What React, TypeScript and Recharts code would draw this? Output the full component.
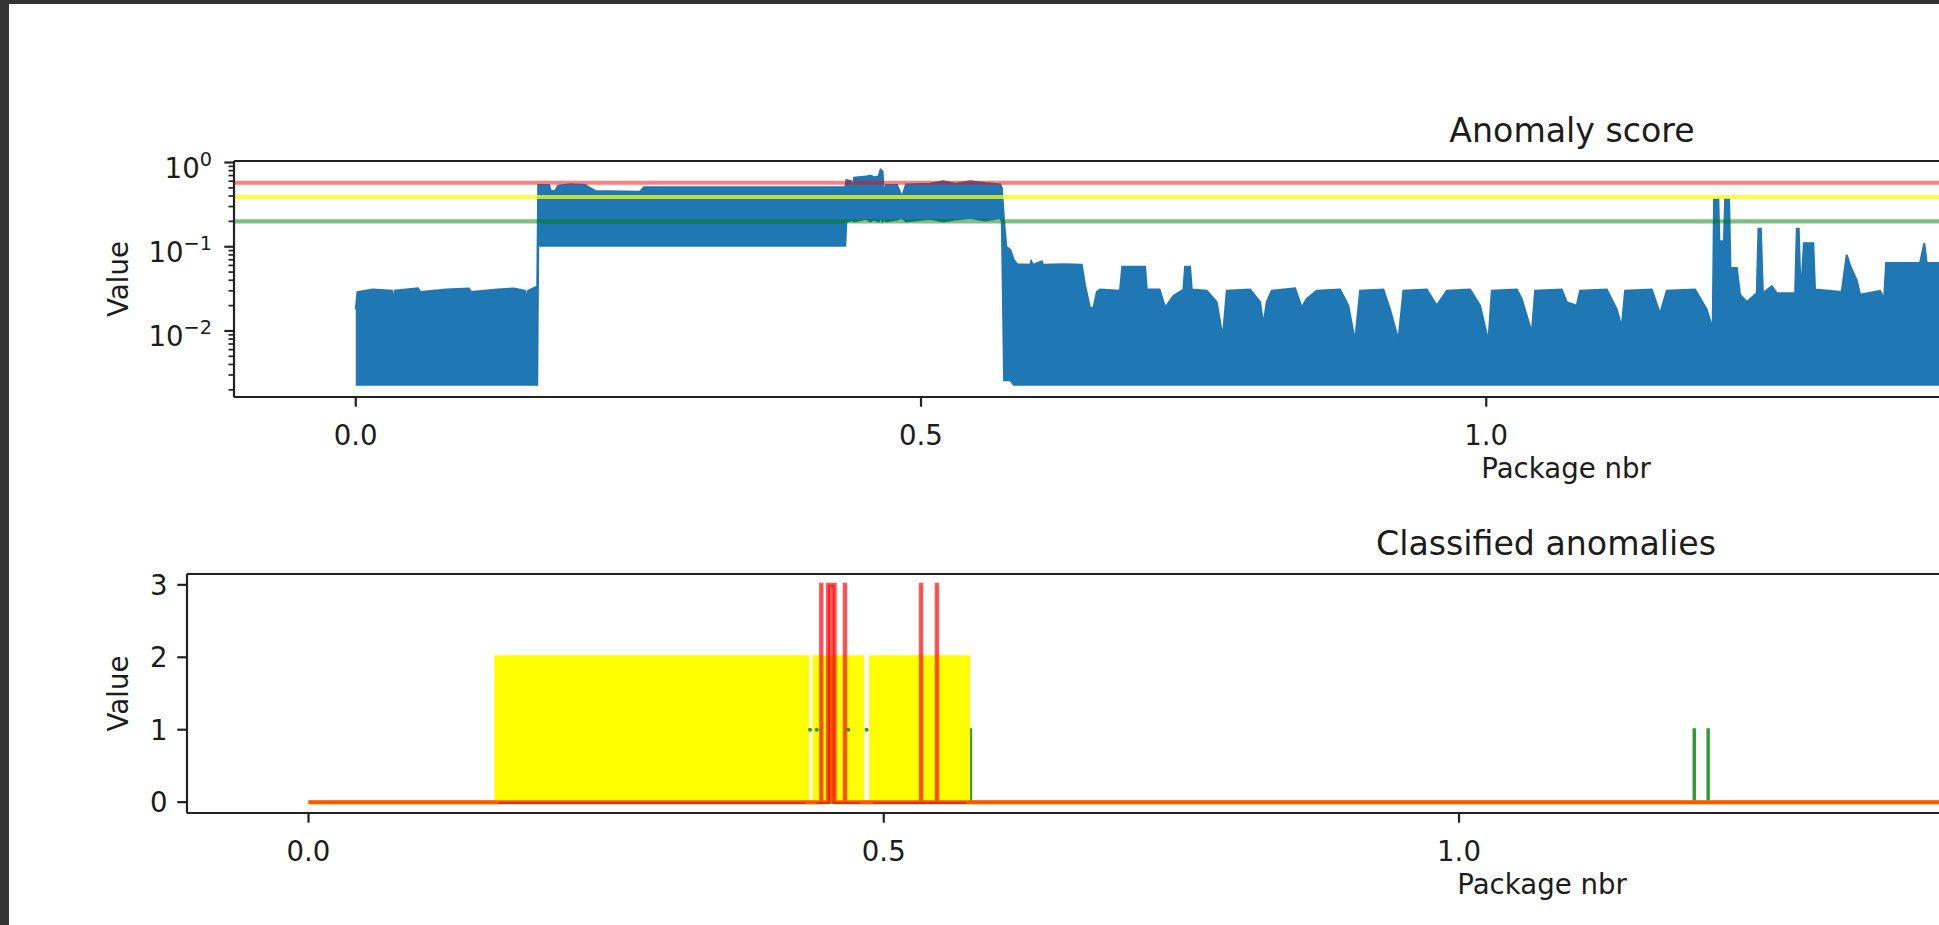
import React from 'react';
import { ComposedChart, Area, Scatter, XAxis, YAxis, ReferenceLine, Label } from 'recharts';

// ---------------- data: anomaly score envelope (package nbr, low, high) ----------------
const scoreX = [
  0.0, 0.0015, 0.015, 0.032, 0.033, 0.0345, 0.055, 0.057, 0.08, 0.1, 0.102, 0.125, 0.14, 0.15, 0.151, 0.1525, 0.159, 0.1605,
  0.1614, 0.171, 0.1726, 0.1762, 0.179, 0.1896, 0.2029, 0.2117, 0.2515, 0.255, 0.3045, 0.3576, 0.433,
  0.434, 0.4382, 0.439, 0.4408, 0.4515, 0.455, 0.4585, 0.4625, 0.4642, 0.466, 0.4673, 0.469, 0.4788, 0.4832, 0.4867,
  0.508, 0.5196, 0.5303, 0.5436, 0.5568, 0.57,
  0.5715, 0.5735, 0.5755, 0.579, 0.582,
  0.585, 0.5965, 0.5975, 0.599, 0.6068, 0.608, 0.626, 0.6422, 0.6451, 0.6495, 0.6525, 0.6555, 0.6584, 0.676, 0.678,
  0.6982, 0.6997, 0.711, 0.716, 0.7232, 0.7321, 0.7336, 0.738, 0.7395, 0.7528, 0.7616, 0.7669, 0.7705, 0.7911, 0.8,
  0.8028, 0.8058, 0.8103, 0.8309, 0.8368, 0.8412, 0.85, 0.8707, 0.878, 0.8839, 0.8884, 0.909, 0.9149, 0.9223, 0.9267,
  0.9474, 0.9562, 0.9651, 0.9857, 0.9945, 1.0019, 1.0049, 1.027, 1.0314, 1.0403, 1.0432, 1.0668, 1.0712, 1.08, 1.083,
  1.1066, 1.1154, 1.1198, 1.1228, 1.1464, 1.1537, 1.1597, 1.1847, 1.195, 1.2003, 1.2015, 1.2053, 1.2062, 1.2085, 1.2095,
  1.2113, 1.2148, 1.216, 1.2216, 1.2245, 1.2305, 1.2393, 1.2408, 1.2429, 1.2447, 1.2526, 1.257, 1.2732, 1.2747, 1.2764,
  1.2782, 1.281, 1.2893, 1.2908, 1.3144, 1.3188, 1.3218, 1.3277, 1.3307, 1.3483, 1.3519, 1.3537, 1.3837, 1.3875, 1.3896, 1.43,
];
const scoreLow = [
  0.0023, 0.0023, 0.0023, 0.0023, 0.0023, 0.0023, 0.0023, 0.0023, 0.0023, 0.0023, 0.0023, 0.0023, 0.0023, 0.0023, 0.0023, 0.0023, 0.0023, 0.0023,
  0.103, 0.103, 0.103, 0.103, 0.103, 0.103, 0.103, 0.103, 0.103, 0.103, 0.103, 0.103, 0.103,
  0.2, 0.205, 0.21, 0.2, 0.215, 0.2, 0.21, 0.2, 0.22, 0.2, 0.215, 0.2, 0.21, 0.22, 0.2,
  0.215, 0.2, 0.21, 0.22, 0.205, 0.22,
  0.2, 0.0026, 0.0026, 0.0026, 0.0023,
  0.0023, 0.0023, 0.0023, 0.0023, 0.0023, 0.0023, 0.0023, 0.0023, 0.0023, 0.0023, 0.0023, 0.0023, 0.0023, 0.0023, 0.0023,
  0.0023, 0.0023, 0.0023, 0.0023, 0.0023, 0.0023, 0.0023, 0.0023, 0.0023, 0.0023, 0.0023, 0.0023, 0.0023, 0.0023, 0.0023,
  0.0023, 0.0023, 0.0023, 0.0023, 0.0023, 0.0023, 0.0023, 0.0023, 0.0023, 0.0023, 0.0023, 0.0023, 0.0023, 0.0023, 0.0023,
  0.0023, 0.0023, 0.0023, 0.0023, 0.0023, 0.0023, 0.0023, 0.0023, 0.0023, 0.0023, 0.0023, 0.0023, 0.0023, 0.0023, 0.0023,
  0.0023, 0.0023, 0.0023, 0.0023, 0.0023, 0.0023, 0.0023, 0.0023, 0.0023, 0.0023, 0.0023, 0.0023, 0.0023, 0.0023, 0.0023,
  0.0023, 0.0023, 0.0023, 0.0023, 0.0023, 0.0023, 0.0023, 0.0023, 0.0023, 0.0023, 0.0023, 0.0023, 0.0023, 0.0023, 0.0023,
  0.0023, 0.0023, 0.0023, 0.0023, 0.0023, 0.0023, 0.0023, 0.0023, 0.0023, 0.0023, 0.0023, 0.0023, 0.0023, 0.0023, 0.0023, 0.0023,
];
const scoreHigh = [
  0.018, 0.029, 0.031, 0.03, 0.022, 0.03, 0.032, 0.029, 0.031, 0.032, 0.029, 0.031, 0.032, 0.03, 0.023, 0.03, 0.033, 0.03,
  0.54, 0.54, 0.46, 0.46, 0.53, 0.55, 0.54, 0.46, 0.45, 0.51, 0.51, 0.51, 0.51,
  0.62, 0.6, 0.38, 0.66, 0.68, 0.7, 0.67, 0.68, 0.82, 0.78, 0.39, 0.54, 0.54, 0.39, 0.55,
  0.56, 0.6, 0.56, 0.6, 0.57, 0.55,
  0.5, 0.2, 0.1, 0.092, 0.07,
  0.062, 0.061, 0.067, 0.061, 0.067, 0.061, 0.062, 0.061, 0.035, 0.0187, 0.0187, 0.029, 0.031, 0.03, 0.058,
  0.058, 0.031, 0.031, 0.019, 0.026, 0.031, 0.058, 0.058, 0.031, 0.03, 0.022, 0.0083, 0.03, 0.031, 0.022,
  0.0117, 0.022, 0.03, 0.032, 0.019, 0.024, 0.03, 0.031, 0.02, 0.0075, 0.03, 0.031, 0.018, 0.0078, 0.03,
  0.031, 0.02, 0.03, 0.031, 0.02, 0.0075, 0.03, 0.031, 0.024, 0.0095, 0.03, 0.031, 0.022, 0.02, 0.03,
  0.031, 0.018, 0.011, 0.03, 0.031, 0.016, 0.03, 0.031, 0.018, 0.0105, 0.366, 0.366, 0.116, 0.116, 0.05,
  0.366, 0.366, 0.056, 0.056, 0.027, 0.022, 0.028, 0.164, 0.164, 0.028, 0.034, 0.028, 0.028, 0.164, 0.164,
  0.025, 0.11, 0.11, 0.031, 0.029, 0.08, 0.06, 0.04, 0.027, 0.03, 0.024, 0.064, 0.064, 0.11, 0.064, 0.064,
];

const thresholdRed = 0.575;
const thresholdYellow = 0.39;
const thresholdGreen = 0.2;

// ---------------- data: classified anomalies (step series) ----------------
const yellowX = [0, 0.1634, 0.1634, 0.4336, 0.4336, 0.4399, 0.4399, 0.4811, 0.4811, 0.4889, 0.4889, 0.5733, 0.5733, 1.45];
const yellowY = [0, 0, 2, 2, 0, 0, 2, 2, 0, 0, 2, 2, 0, 0];

const redX = [0, 0.4455, 0.4455, 0.4459, 0.4459, 0.4515, 0.4515, 0.4574, 0.4574, 0.4661, 0.4661, 0.4665, 0.4665,
  0.5322, 0.5322, 0.5326, 0.5326, 0.546, 0.546, 0.5464, 0.5464, 1.45];
const redY = [0, 0, 3, 3, 0, 0, 3, 3, 0, 0, 3, 3, 0, 0, 3, 3, 0, 0, 3, 3, 0, 0];

const greenX = [0, 0.5753, 0.5753, 0.5755, 0.5755, 1.2043, 1.2043, 1.2046, 1.2046, 1.2164, 1.2164, 1.2167, 1.2167, 1.45];
const greenY = [0, 0, 1, 1, 0, 0, 1, 1, 0, 0, 1, 1, 0, 0];

const greenDotX = [0.4359, 0.4417, 0.4692, 0.4851];
const greenDotY = [1, 1, 1, 1];

// ---------------- tick values ----------------
const xTickValues = [0, 0.5, 1.0];
const logMajorTicks = [0.01, 0.1, 1];
const logMinorTicks = [
  0.002, 0.003, 0.004, 0.005, 0.006, 0.007, 0.008, 0.009,
  0.02, 0.03, 0.04, 0.05, 0.06, 0.07, 0.08, 0.09,
  0.2, 0.3, 0.4, 0.5, 0.6, 0.7, 0.8, 0.9,
];
const classTicks = [0, 1, 2, 3];

// ---------------- rows built from the arrays ----------------
const scoreRows = scoreX.map((x, i) => ({ x, band: [scoreLow[i], scoreHigh[i]] }));
const yellowRows = yellowX.map((x, i) => ({ x, y: yellowY[i] }));
const redRows = redX.map((x, i) => ({ x, y: redY[i] }));
const greenRows = greenX.map((x, i) => ({ x, y: greenY[i] }));
const greenDotRows = greenDotX.map((x, i) => ({ x, y: greenDotY[i] }));

// ---------------- layout / style ----------------
const FONT = "'DejaVu Sans', sans-serif";
const TXT = '#1c1c1c';
const SPINE = '#222';
const FS = 27.6;
const TITLE_FS = 33.2;

const TOP = { left: 234, top: 161, right: 2910, bottom: 397, width: 2920, height: 500, xlabelX: 1566 };
const BOT = { left: 187, top: 74, right: 2905, bottom: 313, width: 2915, height: 425, offset: 500, xlabelX: 1542 };

const makeXTick = (spineY: number) => (props: any) => {
  const { x, payload } = props;
  const cx = payload && typeof payload.coordinate === 'number' ? payload.coordinate : x;
  return (
    <g>
      <line x1={cx} x2={cx} y1={spineY} y2={spineY + 9.7} stroke={SPINE} strokeWidth={2.2} />
      <text x={cx} y={spineY + 48} textAnchor="middle" fontFamily={FONT} fontSize={FS} fill={TXT}>
        {Number(payload.value).toFixed(1)}
      </text>
    </g>
  );
};

const makeLogTick = (spineX: number) => (props: any) => {
  const { y, payload } = props;
  const cy = payload && typeof payload.coordinate === 'number' ? payload.coordinate : y;
  const v = Number(payload.value);
  const major = logMajorTicks.some((m) => Math.abs(m - v) < 1e-9);
  if (!major) {
    return <line x1={spineX - 5.5} x2={spineX} y1={cy} y2={cy} stroke={SPINE} strokeWidth={1.7} />;
  }
  const exp = Math.round(Math.log10(v));
  const expTxt = exp < 0 ? `\u2212${-exp}` : `${exp}`;
  return (
    <g>
      <line x1={spineX - 9.7} x2={spineX} y1={cy} y2={cy} stroke={SPINE} strokeWidth={2.2} />
      <text x={spineX - 22} y={cy + 15} textAnchor="end" fontFamily={FONT} fontSize={FS} fill={TXT}>
        10<tspan dy={-11.7} fontSize={19.3}>{expTxt}</tspan>
      </text>
    </g>
  );
};

const makeLinTick = (spineX: number) => (props: any) => {
  const { y, payload } = props;
  const cy = payload && typeof payload.coordinate === 'number' ? payload.coordinate : y;
  return (
    <g>
      <line x1={spineX - 9.7} x2={spineX} y1={cy} y2={cy} stroke={SPINE} strokeWidth={2.2} />
      <text x={spineX - 19.4} y={cy + 10} textAnchor="end" fontFamily={FONT} fontSize={FS} fill={TXT}>
        {String(payload.value)}
      </text>
    </g>
  );
};

const TextAt = ({ x, y, children, size = FS, rotate = false }: any) => (
  <text
    x={x}
    y={y}
    textAnchor="middle"
    fontFamily={FONT}
    fontSize={size}
    fill={TXT}
    dominantBaseline={rotate ? 'central' : undefined}
    transform={rotate ? `rotate(-90 ${x} ${y})` : undefined}
  >
    {children}
  </text>
);

function ScoreChart() {
  const cx = (TOP.left + TOP.right) / 2;
  const cy = (TOP.top + TOP.bottom) / 2;
  return (
    <ComposedChart
      width={TOP.width}
      height={TOP.height}
      data={scoreRows}
      margin={{ top: TOP.top, right: TOP.width - TOP.right, bottom: 0, left: 0 }}
    >
      <XAxis
        xAxisId="b"
        type="number"
        dataKey="x"
        domain={[-0.1077, 2.2594]}
        allowDataOverflow
        ticks={xTickValues}
        interval={0}
        height={TOP.height - TOP.bottom}
        axisLine={{ stroke: SPINE, strokeWidth: 2.2 }}
        tickLine={false}
        tickSize={0}
        tick={makeXTick(TOP.bottom)}
      >
        <Label content={() => <TextAt x={TOP.xlabelX} y={478}>Package nbr</TextAt>} />
        <Label content={() => <TextAt x={cx} y={142} size={TITLE_FS}>Anomaly score</TextAt>} />
      </XAxis>
      <YAxis
        yAxisId="l"
        type="number"
        scale="log"
        domain={[0.001644, 1.042]}
        allowDataOverflow
        ticks={[...logMajorTicks, ...logMinorTicks]}
        interval={0}
        width={TOP.left}
        axisLine={{ stroke: SPINE, strokeWidth: 2.2 }}
        tickLine={false}
        tickSize={0}
        tick={makeLogTick(TOP.left)}
      >
        <Label content={() => <TextAt x={118} y={cy} rotate>Value</TextAt>} />
      </YAxis>
      <Area
        xAxisId="b"
        yAxisId="l"
        dataKey="band"
        type="linear"
        fill="#1f77b4"
        fillOpacity={1}
        stroke="#1f77b4"
        strokeWidth={2}
        dot={false}
        activeDot={false}
        isAnimationActive={false}
      />
      <ReferenceLine xAxisId="b" yAxisId="l" y={thresholdRed} stroke="#ff0000" strokeOpacity={0.5} strokeWidth={4.1} />
      <ReferenceLine xAxisId="b" yAxisId="l" y={thresholdYellow} stroke="#ffff00" strokeOpacity={0.75} strokeWidth={4.1} />
      <ReferenceLine xAxisId="b" yAxisId="l" y={thresholdGreen} stroke="#008000" strokeOpacity={0.5} strokeWidth={4.1} />
      <ReferenceLine xAxisId="b" yAxisId="l" y={1.042} stroke={SPINE} strokeWidth={2.2} ifOverflow="visible" />
    </ComposedChart>
  );
}

function ClassChart() {
  const cx = (BOT.left + BOT.right) / 2;
  const cy = (BOT.top + BOT.bottom) / 2;
  return (
    <ComposedChart
      width={BOT.width}
      height={BOT.height}
      margin={{ top: BOT.top, right: BOT.width - BOT.right, bottom: 0, left: 0 }}
    >
      <XAxis
        xAxisId="b"
        type="number"
        dataKey="x"
        domain={[-0.1056, 2.2568]}
        allowDataOverflow
        ticks={xTickValues}
        interval={0}
        height={BOT.height - BOT.bottom}
        axisLine={{ stroke: SPINE, strokeWidth: 2.2 }}
        tickLine={false}
        tickSize={0}
        tick={makeXTick(BOT.bottom)}
      >
        <Label content={() => <TextAt x={BOT.xlabelX} y={394}>Package nbr</TextAt>} />
        <Label content={() => <TextAt x={cx} y={55} size={TITLE_FS}>Classified anomalies</TextAt>} />
      </XAxis>
      <YAxis
        yAxisId="l"
        type="number"
        domain={[-0.15, 3.15]}
        allowDataOverflow
        ticks={classTicks}
        interval={0}
        width={BOT.left}
        axisLine={{ stroke: SPINE, strokeWidth: 2.2 }}
        tickLine={false}
        tickSize={0}
        tick={makeLinTick(BOT.left)}
      >
        <Label content={() => <TextAt x={118} y={cy} rotate>Value</TextAt>} />
      </YAxis>
      <Area
        xAxisId="b"
        yAxisId="l"
        data={greenRows}
        dataKey="y"
        type="linear"
        baseValue={0}
        fill="none"
        fillOpacity={0}
        stroke="#2a9a2a"
        strokeWidth={3}
        dot={false}
        activeDot={false}
        isAnimationActive={false}
      />
      <Area
        xAxisId="b"
        yAxisId="l"
        data={yellowRows}
        dataKey="y"
        type="linear"
        baseValue={0}
        fill="#ffff00"
        fillOpacity={1}
        stroke="#ffff00"
        strokeWidth={4}
        dot={false}
        activeDot={false}
        isAnimationActive={false}
      />
      <Scatter
        xAxisId="b"
        yAxisId="l"
        data={greenDotRows}
        dataKey="y"
        fill="#2a9a2a"
        shape={(p: any) => <circle cx={p.cx} cy={p.cy} r={2} fill="#2a9a2a" />}
        isAnimationActive={false}
      />
      <Area
        xAxisId="b"
        yAxisId="l"
        data={redRows}
        dataKey="y"
        type="linear"
        baseValue={0}
        fill="#ff0000"
        fillOpacity={0.65}
        stroke="#ff0000"
        strokeOpacity={0.65}
        strokeWidth={4}
        dot={false}
        activeDot={false}
        isAnimationActive={false}
      />
      <ReferenceLine xAxisId="b" yAxisId="l" y={3.15} stroke={SPINE} strokeWidth={2.2} ifOverflow="visible" />
    </ComposedChart>
  );
}

export default function App() {
  return (
    <div
      style={{
        position: 'absolute',
        left: 0,
        top: 0,
        width: 1939,
        height: 925,
        overflow: 'hidden',
        background: '#333333',
      }}
    >
      <div style={{ position: 'absolute', left: 9, top: 4, right: 0, bottom: 0, background: '#ffffff' }} />
      <div style={{ position: 'absolute', left: 0, top: 0, width: TOP.width, height: TOP.height }}>
        <ScoreChart />
      </div>
      <div style={{ position: 'absolute', left: 0, top: BOT.offset, width: BOT.width, height: BOT.height }}>
        <ClassChart />
      </div>
    </div>
  );
}
